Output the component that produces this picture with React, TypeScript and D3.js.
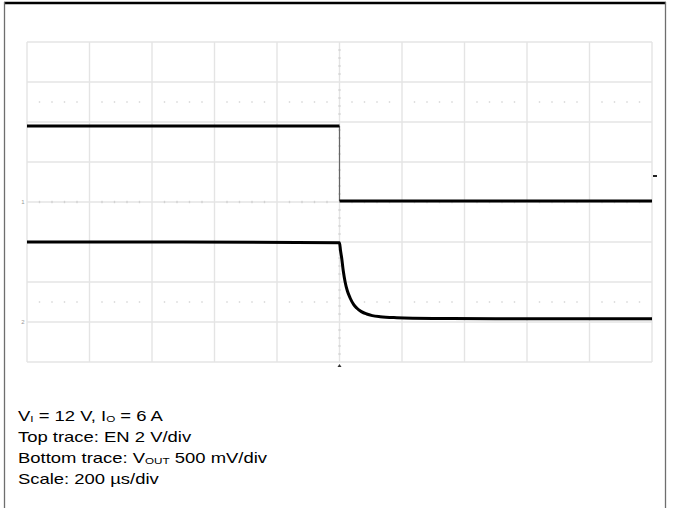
import React from "react";
import * as d3 from "d3";

// Time base: 200 µs/div, 10 divisions; vertical: 8 divisions
const timeDomainUs = [-1000, 1000];
const divDomain = [-4, 4];

// Top trace: EN, 2 V/div, ground at 0 div
const enTimeUs = [-1000, 0, 0, 1000];
const enVolts = [3.8, 3.8, 0.05, 0.05];
const enVoltsPerDiv = 2;
const enGroundDiv = 0;

// Bottom trace: VOUT, 500 mV/div, ground at -3 div
const voutTimeUs = [-1000, -500, 0, 3, 7, 12, 18, 25, 34, 45, 55, 70, 87, 105, 130, 183, 300, 500, 1000];
const voutVolts = [1.0, 1.0, 0.99, 0.9, 0.8, 0.64, 0.5, 0.39, 0.3, 0.22, 0.175, 0.13, 0.1, 0.08, 0.066, 0.054, 0.045, 0.042, 0.04];
const voutVoltsPerDiv = 0.5;
const voutGroundDiv = -3;

const triggerLevelDiv = 0.65;

const captionLines = [
  [{ t: "V" }, { t: "I", sub: true }, { t: " = 12 V, I" }, { t: "O", sub: true }, { t: " = 6 A" }],
  [{ t: "Top trace: EN 2 V/div" }],
  [{ t: "Bottom trace: V" }, { t: "OUT", sub: true }, { t: " 500 mV/div" }],
  [{ t: "Scale: 200 µs/div" }],
];

export default function App() {
  const W = 675;
  const H = 508;
  const x = d3.scaleLinear().domain(timeDomainUs).range([27, 652]);
  const y = d3.scaleLinear().domain(divDomain).range([362, 42]);

  const xDivs = d3.range(-5, 6).map((d) => x(d * 200));
  const yDivs = d3.range(-4, 5).map((d) => y(d));

  const enPts: [number, number][] = enTimeUs.map((t, i) => [t, enVolts[i] / enVoltsPerDiv + enGroundDiv]);
  const voutPts: [number, number][] = voutTimeUs.map((t, i) => [t, voutVolts[i] / voutVoltsPerDiv + voutGroundDiv]);

  const line = d3.line<[number, number]>().x((d) => x(d[0])).y((d) => y(d[1]));
  const curve = d3
    .line<[number, number]>()
    .x((d) => x(d[0]))
    .y((d) => y(d[1]))
    .curve(d3.curveMonotoneX);

  // minor dots (0.2 div)
  const minorX = d3.range(-25, 26).filter((k) => k % 5 !== 0).map((k) => x(k * 40));
  const minorY = d3.range(-20, 21).filter((k) => k % 5 !== 0).map((k) => y(k * 0.2));

  const gridColor = "#e4e4e4";
  const dotColor = "#d2d2d2";

  return (
    <svg
      width={W}
      height={H}
      style={{ position: "absolute", left: 0, top: 0, background: "#fff" }}
      xmlns="http://www.w3.org/2000/svg"
    >
      {/* frame */}
      <line x1={4} x2={666} y1={3} y2={3} stroke="#000" strokeWidth={2.5} />
      <line x1={4.5} x2={4.5} y1={2} y2={H} stroke="#6e6e6e" strokeWidth={1.3} />
      <line x1={665.5} x2={665.5} y1={2} y2={H} stroke="#6e6e6e" strokeWidth={1.3} />

      {/* grid */}
      {xDivs.map((gx, i) => (
        <line key={"vx" + i} x1={gx} x2={gx} y1={y(4)} y2={y(-4)} stroke={gridColor} strokeWidth={1.4} />
      ))}
      {yDivs.map((gy, i) => (
        <line key={"hy" + i} x1={x(-1000)} x2={x(1000)} y1={gy} y2={gy} stroke={gridColor} strokeWidth={1.4} />
      ))}
      {/* dotted rows at +/-2.5 div */}
      {[2.5, -2.5].map((r) =>
        minorX.map((mx, i) => (
          <rect key={"dr" + r + i} x={mx - 0.7} y={y(r) - 0.7} width={1.4} height={1.4} fill={dotColor} />
        ))
      )}
      {/* center cross minor ticks */}
      {minorX.map((mx, i) => (
        <rect key={"cx" + i} x={mx - 0.7} y={y(0) - 1.2} width={1.4} height={2.4} fill={dotColor} />
      ))}
      {minorY.map((my, i) => (
        <rect key={"cy" + i} x={x(0) - 1.2} y={my - 0.7} width={2.4} height={1.4} fill={dotColor} />
      ))}

      {/* ground markers */}
      <text x={23} y={y(enGroundDiv) + 2} fontSize={6} fill="#999" fontFamily="Liberation Sans, Arial, sans-serif" textAnchor="middle">1</text>
      <text x={23} y={y(voutGroundDiv) + 2} fontSize={6} fill="#999" fontFamily="Liberation Sans, Arial, sans-serif" textAnchor="middle">2</text>

      {/* trigger markers */}
      <rect x={653} y={y(triggerLevelDiv) - 1} width={4} height={2} fill="#222" />
      <path d={`M${x(0) - 2},${y(-4) + 5} L${x(0) + 2},${y(-4) + 5} L${x(0)},${y(-4) + 2} Z`} fill="#333" />

      {/* EN trace */}
      <path d={line([enPts[1], enPts[2]]) || ""} fill="none" stroke="#666" strokeWidth={1.2} />
      <path d={line([enPts[0], enPts[1]]) || ""} fill="none" stroke="#000" strokeWidth={3} />
      <path d={line([enPts[2], enPts[3]]) || ""} fill="none" stroke="#000" strokeWidth={3} />

      {/* VOUT trace */}
      <path d={curve(voutPts) || ""} fill="none" stroke="#000" strokeWidth={3} strokeLinejoin="round" />

      {/* caption */}
      <g transform="translate(18,0) scale(1.23,1)" fontFamily="Liberation Sans, Arial, sans-serif" fontSize={15} fill="#000">
        {captionLines.map((ln, li) => (
          <text key={li} x={0} y={421 + li * 21}>
            {ln.map((seg, si) =>
              seg.sub ? (
                <tspan key={si} fontSize={9.5} dy={1}>
                  {seg.t}
                </tspan>
              ) : (
                <tspan key={si} dy={si > 0 && ln[si - 1].sub ? -1 : 0}>
                  {seg.t}
                </tspan>
              )
            )}
          </text>
        ))}
      </g>
    </svg>
  );
}
